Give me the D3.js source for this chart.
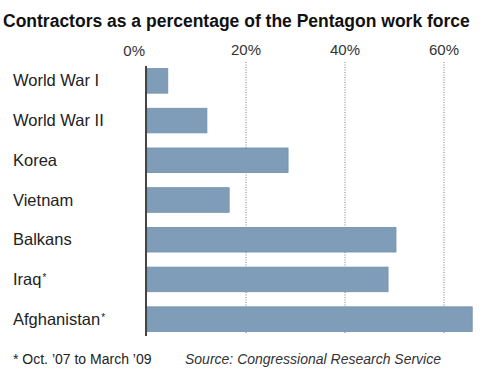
<!DOCTYPE html>
<html><head><meta charset="utf-8">
<script src="https://cdn.jsdelivr.net/npm/d3@7"></script>
<style>html,body{margin:0;padding:0;background:#fff;}svg{display:block;font-family:"Liberation Sans",Arial,Helvetica,sans-serif;}</style>
</head><body>
<svg id="chart" width="497" height="371"></svg>
<script>
const categories = ["World War I","World War II","Korea","Vietnam","Balkans","Iraq*","Afghanistan*"];
const values = [4.2, 12.1, 28.5, 16.6, 50.3, 48.7, 65.7];
const tickValues = [0, 20, 40, 60];
const tickLabels = ["0%","20%","40%","60%"];
const titleText = "Contractors as a percentage of the Pentagon work force";
const footnoteText = "* Oct. \u201907 to March \u201909";
const sourceText = "Source: Congressional Research Service";

const svg = d3.select("#chart");
const x = d3.scaleLinear().domain([0, 60]).range([147, 444]);
const y = d3.scaleBand().domain(categories).range([61, 339]).paddingInner(0.38).paddingOuter(0.19);

svg.append("text").attr("x", 3).attr("y", 27)
  .attr("font-size", 17.5).attr("font-weight", "bold").attr("fill", "#111")
  .text(titleText);

// gridlines
svg.append("g").selectAll("line").data(tickValues.filter(d => d > 0)).join("line")
  .attr("x1", d => x(d)).attr("x2", d => x(d))
  .attr("y1", 62).attr("y2", 334)
  .attr("stroke", "#a8a8a8").attr("stroke-width", 1.5).attr("stroke-dasharray", "1,1.5");

// tick labels
svg.append("g").selectAll("text").data(tickValues).join("text")
  .attr("x", d => d === 0 ? x(d) - 2 : x(d))
  .attr("y", (d) => d === 0 ? 56 : 55)
  .attr("text-anchor", d => d === 0 ? "end" : "middle")
  .attr("font-size", 15).attr("fill", "#333")
  .text((d, i) => tickLabels[i]);

// bars
svg.append("g").selectAll("rect").data(values).join("rect")
  .attr("x", x(0))
  .attr("y", (d, i) => y(categories[i]))
  .attr("width", d => x(d) - x(0))
  .attr("height", y.bandwidth())
  .attr("fill", "#7f9db8").attr("stroke", "#7290ab").attr("stroke-width", 0.8);

// category labels
const lab = svg.append("g").selectAll("text").data(categories).join("text")
  .attr("x", 13)
  .attr("y", d => y(d) + y.bandwidth() / 2 + 5.5)
  .attr("font-size", 16.5).attr("fill", "#222");
lab.append("tspan").text(d => d.replace("*", ""));
lab.filter(d => d.endsWith("*")).append("tspan")
  .attr("font-size", 10).attr("dx", 1).attr("dy", -4).text("*");

// axis line
svg.append("line").attr("x1", 146).attr("x2", 146).attr("y1", 66).attr("y2", 336)
  .attr("stroke", "#444").attr("stroke-width", 2);

svg.append("text").attr("x", 13).attr("y", 364).attr("font-size", 14).attr("fill", "#222").text(footnoteText);
svg.append("text").attr("x", 185).attr("y", 364).attr("font-size", 14).attr("font-style", "italic").attr("fill", "#333").text(sourceText);
</script>
</body></html>
